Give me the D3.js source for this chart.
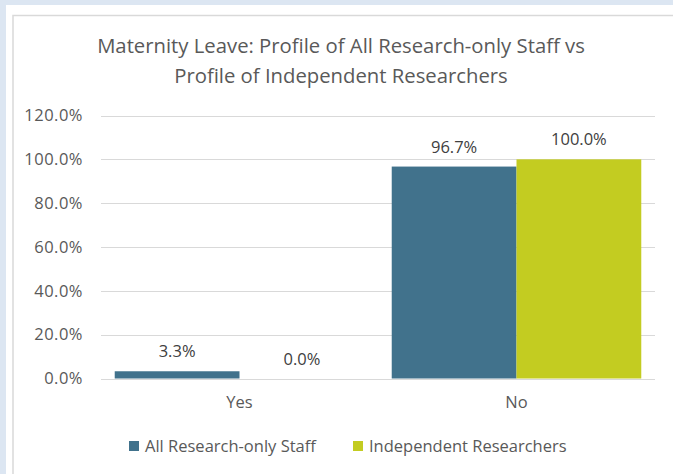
<!DOCTYPE html>
<html>
<head>
<meta charset="utf-8">
<script src="https://cdn.jsdelivr.net/npm/d3@7"></script>
<style>
  body { margin: 0; background: #dce6f2; }
  svg { display: block; font-family: "Open Sans", sans-serif; }
</style>
</head>
<body>
<div class="canvas"></div>
<script>
// chart data
const categories = ['Yes', 'No']
const seriesNames = ['All Research-only Staff', 'Independent Researchers']
const allStaff = [3.3, 96.7]
const independent = [0.0, 100.0]
const yTicks = [0, 20, 40, 60, 80, 100, 120]

const colours = ['#41728c', '#c3cc21']
const W = 673, H = 474

const svg = d3.select('.canvas')
  .append('svg')
  .attr('width', W)
  .attr('height', H)

// white panel + chart border
svg.append('rect').attr('x', 6).attr('y', 5).attr('width', W - 6).attr('height', H - 5).attr('fill', '#fff')
svg.append('rect').attr('x', 13).attr('y', 15.5).attr('width', W).attr('height', H)
  .attr('fill', '#fff').attr('stroke', '#d9d9d9').attr('stroke-width', 1.5)

// title
const title = svg.append('text')
  .attr('text-anchor', 'middle')
  .attr('fill', '#595959')
  .style('font-size', '20.3px')
title.append('tspan').attr('x', 341).attr('y', 53).text('Maternity Leave: Profile of All Research-only Staff vs')
title.append('tspan').attr('x', 341).attr('y', 83).text('Profile of Independent Researchers')

const margin = { left: 101, right: 655, top: 115.5, bottom: 378.5 }

const x = d3.scaleBand()
  .domain(categories)
  .range([margin.left, margin.right])

const x1 = d3.scaleBand()
  .domain(seriesNames)
  .range([0, x.bandwidth()])
  .paddingOuter(0.11)

const y = d3.scaleLinear()
  .domain([0, 120])
  .range([margin.bottom, margin.top])

// gridlines
svg.append('g')
  .selectAll('line')
  .data(yTicks)
  .enter()
  .append('line')
  .attr('x1', margin.left)
  .attr('x2', margin.right)
  .attr('y1', d => Math.round(y(d)) + 0.5)
  .attr('y2', d => Math.round(y(d)) + 0.5)
  .attr('stroke', '#d9d9d9')
  .attr('stroke-width', 1)

// y axis labels
const yAxis = svg.append('g')
  .attr('transform', `translate(${margin.left}, 0)`)
  .call(d3.axisLeft(y).tickValues(yTicks).tickFormat(d => d.toFixed(1) + '%').tickSize(0).tickPadding(18))
yAxis.select('.domain').remove()
yAxis.selectAll('text')
  .attr('fill', '#595959')
  .style('font-size', '16.5px')
  .style('letter-spacing', '0.5px')
  .style('font-family', '"Open Sans", sans-serif')

// x axis labels
const xAxis = svg.append('g')
  .attr('transform', `translate(0, ${margin.bottom})`)
  .call(d3.axisBottom(x).tickSize(0))
xAxis.select('.domain').remove()
xAxis.selectAll('text')
  .attr('y', 29)
  .attr('dy', null)
  .attr('fill', '#595959')
  .style('font-size', '16.5px')
  .style('font-family', '"Open Sans", sans-serif')

// bars
const rows = categories.map((c, i) => ({ cat: c, vals: [allStaff[i], independent[i]] }))

const groups = svg.selectAll('.grp')
  .data(rows)
  .enter()
  .append('g')
  .attr('class', 'grp')
  .attr('transform', d => `translate(${x(d.cat)}, 0)`)

groups.selectAll('rect')
  .data(d => d.vals.map((v, i) => ({ name: seriesNames[i], v: v, i: i })))
  .enter()
  .append('rect')
  .attr('x', d => x1(d.name))
  .attr('width', x1.bandwidth())
  .attr('y', d => y(d.v))
  .attr('height', d => y(0) - y(d.v))
  .attr('fill', d => colours[d.i])

groups.selectAll('.lbl')
  .data(d => d.vals.map((v, i) => ({ name: seriesNames[i], v: v })))
  .enter()
  .append('text')
  .attr('class', 'lbl')
  .attr('text-anchor', 'middle')
  .attr('x', d => x1(d.name) + x1.bandwidth() / 2)
  .attr('y', d => y(d.v) - 14)
  .attr('fill', '#404040')
  .style('font-size', '16.5px')
  .text(d => d.v.toFixed(1) + '%')

// legend
const legendX = [129, 353]
const legend = svg.selectAll('.leg')
  .data(seriesNames)
  .enter()
  .append('g')
  .attr('class', 'leg')
  .attr('transform', (d, i) => `translate(${legendX[i]}, 446)`)
legend.append('rect')
  .attr('x', 0).attr('y', -5).attr('width', 10).attr('height', 10)
  .attr('fill', (d, i) => colours[i])
legend.append('text')
  .attr('x', 16).attr('y', 5.5)
  .attr('fill', '#595959')
  .style('font-size', '16.5px')
  .text(d => d)
</script>
</body>
</html>
